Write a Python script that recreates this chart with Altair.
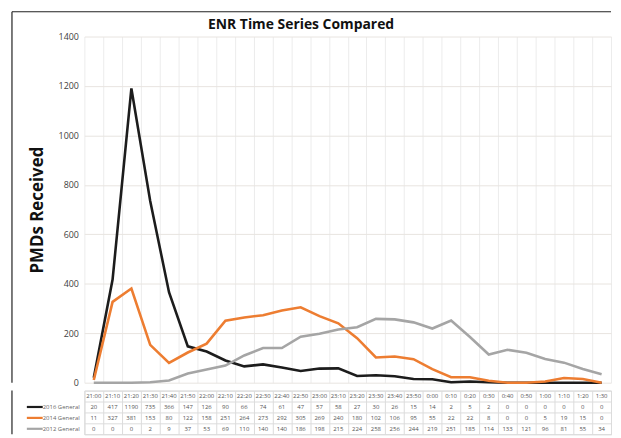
import altair as alt
import pandas as pd

times = ["21:00", "21:10", "21:20", "21:30", "21:40", "21:50", "22:00", "22:10", "22:20", "22:30",
         "22:40", "22:50", "23:00", "23:10", "23:20", "23:30", "23:40", "23:50", "0:00", "0:10",
         "0:20", "0:30", "0:40", "0:50", "1:00", "1:10", "1:20", "1:30"]
series = ["2016 General", "2014 General", "2012 General"]
v2016 = [20, 417, 1190, 735, 366, 147, 126, 90, 66, 74, 61, 47, 57, 58, 27, 30, 26, 15, 14, 2, 5, 2, 0, 0, 0, 0, 0, 0]
v2014 = [11, 327, 381, 153, 80, 122, 158, 251, 264, 273, 292, 305, 269, 240, 180, 102, 106, 95, 55, 22, 22, 8, 0, 0, 5, 19, 15, 0]
v2012 = [0, 0, 0, 2, 9, 37, 53, 69, 110, 140, 140, 186, 198, 215, 224, 258, 256, 244, 219, 251, 185, 114, 133, 121, 96, 81, 55, 34]
colors = ["#1c1c1c", "#ed7d31", "#a5a5a5"]
y_ticks = [0, 200, 400, 600, 800, 1000, 1200, 1400]
chart_title = ["ENR Time Series Compared"]

W = 531
H = 349
ROW = 11
TH = ROW * 4
FRAME_X = -73
FRAME_Y = -25

rows = []
for s, vals in zip(series, [v2016, v2014, v2012]):
    for t, v in zip(times, vals):
        rows.append({"time": t, "series": s, "value": v})
df = pd.DataFrame(rows)

table_rows = ["time"] + series
tbl = [{"time": t, "row": "time", "label": t} for t in times]
tbl += [{"time": r["time"], "row": r["series"], "label": str(r["value"])} for r in rows]
tdf = pd.DataFrame(tbl)
leg = pd.DataFrame({"row": series, "series": series})
one = pd.DataFrame({"k": [0]})
tdata = pd.DataFrame({"t": chart_title})

xscale = alt.Scale(type="band", domain=times, paddingInner=0, paddingOuter=0)
color = alt.Color("series:N", scale=alt.Scale(domain=series, range=colors), legend=None)


def flat_axis(grid_color):
    return alt.Axis(title=None, labels=False, ticks=False, domain=False, grid=True,
                    tickBand="extent", gridColor=grid_color, gridWidth=1,
                    tickSize=0, labelPadding=0, minExtent=0, maxExtent=0)


lines = alt.Chart(df).mark_line(strokeWidth=2.6).encode(
    x=alt.X("time:O", scale=xscale, bandPosition=0.5, axis=flat_axis("#ececec")),
    y=alt.Y("value:Q", scale=alt.Scale(domain=[0, 1400], nice=False),
            axis=alt.Axis(values=y_ticks, format="d", title="PMDs Received", titleFontSize=17,
                          titleFontWeight="bold", titleColor="#111", titlePadding=12,
                          labelFontSize=9, labelColor="#404040", labelPadding=6,
                          ticks=False, domain=False, gridColor="#e8e4e0")),
    color=color,
)
frame_top = alt.Chart(one).mark_rule(color="#222", strokeWidth=1.2).encode(
    x=alt.value(FRAME_X), x2=alt.value(W), y=alt.value(FRAME_Y))
frame_left = alt.Chart(one).mark_rule(color="#222", strokeWidth=1.2).encode(
    x=alt.value(FRAME_X), y=alt.value(FRAME_Y), y2=alt.value(H))
title_txt = alt.Chart(tdata).mark_text(fontSize=14, fontWeight="bold", color="#111",
                                       align="center", baseline="middle").encode(
    x=alt.value(W / 2 - 47), y=alt.value(-12), text="t:N")

top = alt.layer(lines, frame_top, frame_left, title_txt).properties(
    width=W, height=H,
    view=alt.ViewBackground(stroke="transparent"),
)


def ty():
    return alt.Y("row:N", scale=alt.Scale(type="band", domain=table_rows, paddingInner=0, paddingOuter=0),
                 bandPosition=0.5, axis=flat_axis("#dcdcdc"))


cells = alt.Chart(tdf).mark_text(fontSize=6, color="#555", baseline="middle").encode(
    x=alt.X("time:O", scale=xscale, bandPosition=0.5, axis=flat_axis("#dcdcdc")),
    y=ty(),
    text="label:N",
)
leg_rule = alt.Chart(leg).mark_rule(strokeWidth=2.2).encode(
    x=alt.value(-58), x2=alt.value(-42), y=ty(), color=color)
leg_text = alt.Chart(leg).mark_text(align="left", fontSize=6, color="#666", baseline="middle").encode(
    x=alt.value(-42), y=ty(), text="row:N")
frame_left2 = alt.Chart(one).mark_rule(color="#222", strokeWidth=1.2).encode(
    x=alt.value(FRAME_X), y=alt.value(0), y2=alt.value(TH))

table = alt.layer(cells, leg_rule, leg_text, frame_left2).properties(
    width=W, height=TH, view=alt.ViewBackground(stroke="#dcdcdc"))

chart = alt.vconcat(top, table, spacing=0).properties(
    padding={"left": 2, "top": 0, "right": 0, "bottom": 0}
).configure(font="Open Sans")

chart.save("out.html", embed_options={"renderer": "svg", "actions": False})
